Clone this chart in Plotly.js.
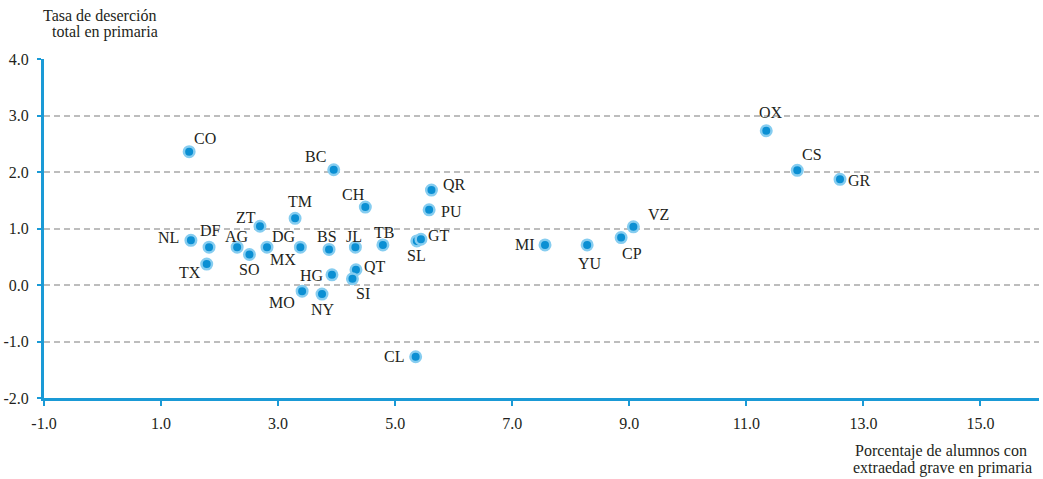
<!DOCTYPE html>
<html>
<head>
<meta charset="utf-8">
<script src="https://cdn.plot.ly/plotly-3.0.1.min.js"></script>
<style>html,body{margin:0;padding:0;background:#fff;}#chart{width:1043px;height:479px;}</style>
</head>
<body>
<div id="chart"></div>
<script>
// Data
const states = ["CO","BC","CH","QR","PU","TM","ZT","NL","DF","AG","SO","MX","DG","BS","JL","TB","SL","GT","TX","HG","QT","SI","MO","NY","CL","MI","YU","CP","VZ","OX","CS","GR"];
const extraedad = [1.48,3.95,4.49,5.62,5.58,3.29,2.69,1.51,1.82,2.30,2.51,2.81,3.38,3.87,4.32,4.79,5.37,5.44,1.78,3.92,4.33,4.27,3.41,3.75,5.35,7.56,8.28,8.86,9.07,11.34,11.87,12.60];
const desercion = [2.36,2.04,1.38,1.68,1.33,1.18,1.04,0.79,0.67,0.67,0.54,0.67,0.67,0.63,0.67,0.71,0.78,0.81,0.37,0.18,0.27,0.11,-0.11,-0.16,-1.27,0.71,0.71,0.84,1.03,2.73,2.03,1.87];
// label offsets in pixels [dx, dy(down)]
const labelOffsets = [[16,-13],[-18,-13],[-12,-13],[23,-6],[22,2],[5,-17],[-14,-9],[-22,-3],[1,-17],[0,-11],[0,15],[16,12],[-16,-11],[-2,-13],[-1,-11],[1,-12],[0,15],[18,-4],[-17,8],[-20,1],[19,-3],[11,15],[-20,11],[1,15],[-22,0],[-20,0],[3,19],[11,16],[25,-12],[5,-18],[15,-16],[19,1]];

const xTicks = [-1,1,3,5,7,9,11,13,15];
const xTickText = ["-1.0","1.0","3.0","5.0","7.0","9.0","11.0","13.0","15.0"];
const yTicks = [-2,-1,0,1,2,3,4];
const yTickText = ["-2.0","-1.0","0.0","1.0","2.0","3.0","4.0"];

const FONT = "Liberation Serif, DejaVu Serif, serif";
const TXT = "#231f20";
const BLUE = "#1a9ad6";
const FS = 16;

const trace = {
  x: extraedad, y: desercion, type: "scatter", mode: "markers",
  marker: {size: 10.5, color: "#0b8fd3", line: {width: 2.5, color: "#86cdf0"}},
  hoverinfo: "text", text: states, cliponaxis: false
};

const annotations = states.map((s, i) => ({
  x: extraedad[i], y: desercion[i], xref: "x", yref: "y", text: s, showarrow: false,
  xshift: labelOffsets[i][0], yshift: -labelOffsets[i][1],
  font: {family: FONT, size: FS, color: TXT}
}));

annotations.push(
  {xref:"paper", yref:"paper", x:-0.003, y:(398-14)/340, xanchor:"left", yanchor:"middle", text:"Tasa de deserción", showarrow:false, font:{family:FONT,size:FS,color:TXT}},
  {xref:"paper", yref:"paper", x:0.006, y:(398-31)/340, xanchor:"left", yanchor:"middle", text:"total en primaria", showarrow:false, font:{family:FONT,size:FS,color:TXT}},
  {xref:"paper", yref:"paper", x:(941-44)/995, y:(398-451)/340, xanchor:"center", yanchor:"middle", text:"Porcentaje de alumnos con", showarrow:false, font:{family:FONT,size:FS,color:TXT}},
  {xref:"paper", yref:"paper", x:(942-44)/995, y:(398-468)/340, xanchor:"center", yanchor:"middle", text:"extraedad grave en primaria", showarrow:false, font:{family:FONT,size:FS,color:TXT}}
);

const layout = {
  width: 1043, height: 479,
  margin: {l: 44, r: 4, t: 59, b: 81},
  paper_bgcolor: "#fff", plot_bgcolor: "#fff",
  showlegend: false,
  font: {family: FONT, size: FS, color: TXT},
  xaxis: {
    range: [-1, 16], showgrid: false, zeroline: false,
    showline: true, linecolor: BLUE, linewidth: 3,
    ticks: "outside", ticklen: 5, tickwidth: 2, tickcolor: BLUE,
    ticklabelstandoff: 4,
    tickvals: xTicks, ticktext: xTickText, tickfont: {family: FONT, size: FS, color: TXT}
  },
  yaxis: {
    range: [-2, 4], zeroline: false,
    showgrid: true, gridcolor: "#bdbdbd", gridwidth: 2, griddash: "6px,4px",
    showline: true, linecolor: BLUE, linewidth: 3,
    ticks: "outside", ticklen: 4, tickwidth: 2, tickcolor: BLUE,
    ticklabelstandoff: 5,
    tickvals: yTicks, ticktext: yTickText, tickfont: {family: FONT, size: FS, color: TXT}
  },
  annotations: annotations
};

Plotly.newPlot("chart", [trace], layout, {displayModeBar: false, staticPlot: true});
</script>
</body>
</html>
